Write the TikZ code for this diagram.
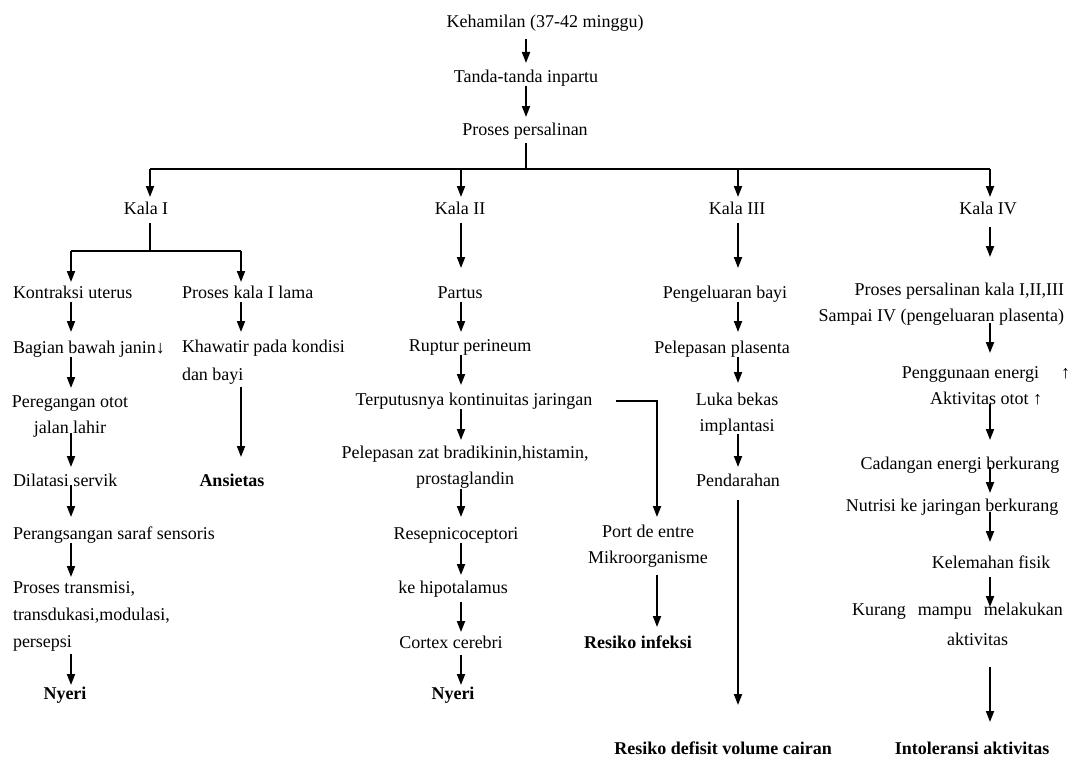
\documentclass[tikz,border=0pt]{standalone}
\usepackage{fontspec}
\setmainfont{Liberation Serif}
\usetikzlibrary{arrows.meta}
\newcommand\fs{\fontsize{18}{26}\selectfont}
\newcommand\myconn[5]{\draw[arr,shorten <=#4pt,shorten >=#5pt] (#1.south -| #3) -- (#2.north -| #3);}
\tikzset{
  txt/.style={font=\fs, inner sep=0pt, outer sep=0pt, text height=12.5pt, text depth=4pt, anchor=north},
  mtxt/.style={font=\fs, inner sep=0pt, outer sep=0pt, anchor=north, align=center},
  bold/.style={font=\fs\bfseries},
  ln/.style={line width=1.9pt, black},
  arr/.style={ln, -{Triangle[length=11pt,width=8pt]}},
}
\begin{document}
\begin{tikzpicture}[x=1pt,y=-1pt]
\fill[white] (0,0) rectangle (1073,760);
\useasboundingbox (0,0) rectangle (1073,760);
% column coordinates
\coordinate (cT) at (526,0);
\coordinate (cA) at (150,0);
\coordinate (cI) at (71,0);
\coordinate (cIb) at (241,0);
\coordinate (cII) at (461,0);
\coordinate (cP) at (657,0);
\coordinate (cIII) at (738,0);
\coordinate (cIV) at (990,0);
\coordinate (bar) at (526,169);
\coordinate (splitI) at (150,251);

% top
\node[txt] (keh) at (545,15.5) {Kehamilan (37-42 minggu)};
\node[txt] (tan) at (526,69.5) {Tanda-tanda inpartu};
\node[txt] (pro) at (525,122.5) {Proses persalinan};
\node[txt] (k1) at (146,201.5) {Kala I};
\node[txt] (k2) at (460,201.5) {Kala II};
\node[txt] (k3) at (737,201.5) {Kala III};
\node[txt] (k4) at (988,201.5) {Kala IV};

% Kala I
\node[txt,anchor=north west] (kon) at (13,285.5) {Kontraksi uterus};
\node[txt,anchor=north west] (pkl) at (182,285.5) {Proses kala I lama};
\node[txt,anchor=north west] (bag) at (13,340.5) {Bagian bawah janin↓};
\node[mtxt,anchor=north west,align=left,font=\fontsize{18}{28}\selectfont] (kha) at (182,340.5) {Khawatir pada kondisi\\dan bayi};
\node[mtxt] (per) at (70,395.5) {Peregangan otot\\jalan lahir};
\node[txt,bold] (ans) at (232,473.5) {Ansietas};
\node[txt,anchor=north west] (dil) at (13,473.5) {Dilatasi servik};
\node[txt,anchor=north west] (prs) at (13,526.5) {Perangsangan saraf sensoris};
\node[mtxt,anchor=north west,align=left,font=\fontsize{18}{27}\selectfont] (ptr) at (13,581.5) {Proses transmisi,\\transdukasi,modulasi,\\persepsi};
\node[txt,bold] (ny1) at (65,686.5) {Nyeri};

% Kala II
\node[txt] (par) at (460,285.5) {Partus};
\node[txt] (rup) at (470,338.5) {Ruptur perineum};
\node[txt] (ter) at (474,392.5) {Terputusnya kontinuitas jaringan};
\node[mtxt] (pel) at (465,446.5) {Pelepasan zat bradikinin,histamin,\\prostaglandin};
\node[txt] (res) at (456,526.5) {Resepnicoceptori};
\node[txt] (hip) at (453,580.5) {ke hipotalamus};
\node[txt] (cor) at (451,635.5) {Cortex cerebri};
\node[txt,bold] (ny2) at (453,686.5) {Nyeri};

% port de entre
\node[mtxt] (port) at (648,525.5) {Port de entre\\Mikroorganisme};
\node[txt,bold] (inf) at (638,635.5) {Resiko infeksi};

% Kala III
\node[txt] (pbay) at (725,285.5) {Pengeluaran bayi};
\node[txt] (ppl) at (722,340.5) {Pelepasan plasenta};
\node[mtxt] (luka) at (737,393.5) {Luka bekas\\implantasi};
\node[txt] (pend) at (738,473.5) {Pendarahan};
\node[txt,bold] (rdv) at (723,741.5) {Resiko defisit volume cairan};

% Kala IV
\node[mtxt,anchor=north east,align=right] (pp4) at (1064,283.5) {Proses persalinan kala I,II,III\\Sampai IV (pengeluaran plasenta)};
\node[mtxt] (ene) at (986,366.5) {Penggunaan energi\hspace{22pt}↑\\Aktivitas otot ↑};
\node[txt] (cad) at (960,456.5) {Cadangan energi berkurang};
\node[txt] (nut) at (952,498.5) {Nutrisi ke jaringan berkurang};
\node[txt] (kel) at (991,555.5) {Kelemahan fisik};
\node[mtxt,anchor=north west,align=left,font=\fontsize{18}{30}\selectfont] (kur) at (852,603.5) {Kurang\hspace{12pt}mampu\hspace{12pt}melakukan\\\hspace{95pt}aktivitas};
\node[txt,bold] (int) at (972,741.5) {Intoleransi aktivitas};

% top connectors
\myconn{keh}{tan}{cT}{7}{6.5}
\myconn{tan}{pro}{cT}{0}{5.5}
\draw[ln,shorten <=4pt] (pro.south -| cT) -- (bar);
\draw[ln] (bar -| cA) -- (bar -| cIV);
\draw[arr,shorten >=4.5pt] (bar -| cA) -- (k1.north -| cA);
\draw[arr,shorten >=4.5pt] (bar -| cII) -- (k2.north -| cII);
\draw[arr,shorten >=4.5pt] (bar -| cIII) -- (k3.north -| cIII);
\draw[arr,shorten >=4.5pt] (bar -| cIV) -- (k4.north -| cIV);

% Kala I
\draw[ln,shorten <=5pt] (k1.south -| cA) -- (splitI);
\draw[ln] (splitI -| cI) -- (splitI -| cIb);
\draw[arr,shorten >=3.5pt] (splitI -| cI) -- (kon.north -| cI);
\draw[arr,shorten >=3.5pt] (splitI -| cIb) -- (pkl.north -| cIb);
\myconn{kon}{bag}{cI}{0}{8.5}
\myconn{pkl}{kha}{cIb}{0}{8.5}
\myconn{bag}{per}{cI}{0}{7.5}
\myconn{kha}{ans}{cIb}{2}{16.5}
\myconn{per}{dil}{cI}{-4}{6.5}
\myconn{dil}{prs}{cI}{-5}{9.5}
\myconn{prs}{ptr}{cI}{0}{4.5}
\myconn{ptr}{ny1}{cI}{3}{1.5}

% Kala II
\myconn{k2}{par}{cII}{5}{17.5}
\myconn{par}{rup}{cII}{0}{6.5}
\myconn{rup}{ter}{cII}{0}{7.5}
\myconn{ter}{pel}{cII}{0}{6.5}
\myconn{pel}{res}{cII}{0}{9.5}
\myconn{res}{hip}{cII}{0}{5.5}
\myconn{hip}{cor}{cII}{5}{3.5}
\myconn{cor}{ny2}{cII}{3}{1.5}

% port de entre
\draw[arr,shorten <=24pt,shorten >=8.5pt] (ter.east) -| (port.north -| cP);
\myconn{port}{inf}{cP}{7}{8.5}

% Kala III
\myconn{k3}{pbay}{cIII}{5}{17.5}
\myconn{pbay}{ppl}{cIII}{0}{8.5}
\myconn{ppl}{luka}{cIII}{0}{10.5}
\myconn{luka}{pend}{cIII}{-2}{6.5}
\myconn{pend}{rdv}{cIII}{10}{36.5}

% Kala IV
\myconn{k4}{pp4}{cIV}{9}{26.5}
\myconn{pp4}{ene}{cIV}{-3}{13.5}
\myconn{ene}{cad}{cIV}{-1}{16.5}
\myconn{cad}{nut}{cIV}{-6}{5.5}
\myconn{nut}{kel}{cIV}{-3}{13.5}
\myconn{kel}{kur}{cIV}{5}{-3.5}
\myconn{kur}{int}{cIV}{21}{19.5}
\end{tikzpicture}
\end{document}
